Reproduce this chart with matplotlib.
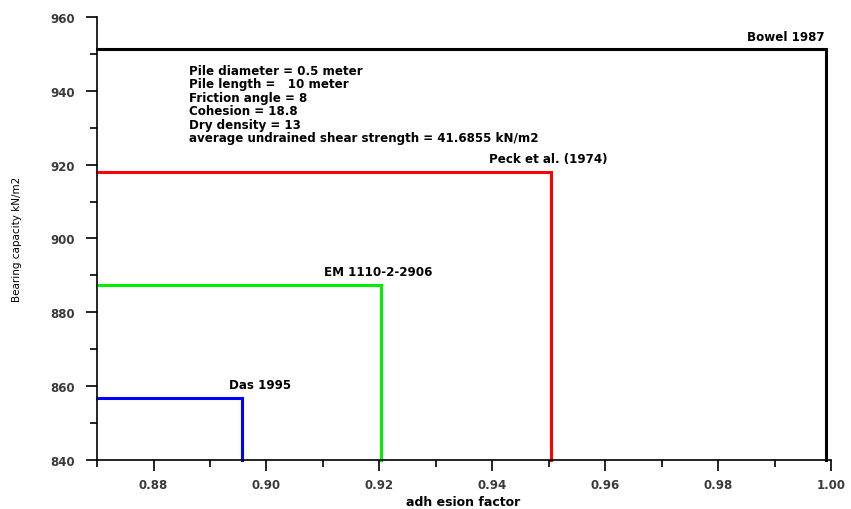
import matplotlib
matplotlib.use("Agg")
import matplotlib.pyplot as plt
from matplotlib.ticker import MultipleLocator

plt.rcParams['font.family'] = ['DejaVu Sans']

methods = ["Das 1995", "EM 1110-2-2906", "Peck et al. (1974)", "Bowel 1987"]
adhesion = [0.8957, 0.9203, 0.9503, 0.9990]
capacity = [856.8, 887.4, 918.0, 951.4]
colors = ["#0000ff", "#00ee00", "#ff0000", "#000000"]
x_min, y_min = 0.87, 840
x_ticks = [0.88, 0.90, 0.92, 0.94, 0.96, 0.98, 1.00]
y_ticks = [840, 860, 880, 900, 920, 940, 960]
info = ["Pile diameter = 0.5 meter",
        "Pile length =   10 meter",
        "Friction angle = 8",
        "Cohesion = 18.8",
        "Dry density = 13",
        "average undrained shear strength = 41.6855 kN/m2"]

fig = plt.figure(figsize=(8.51, 5.10), dpi=100)
ax = fig.add_axes([0.114, 0.096, 0.863, 0.869])

label_pos = {
    "Das 1995": (0.8988, 1.9, 'center'),
    "EM 1110-2-2906": (0.9197, 1.9, 'center'),
    "Peck et al. (1974)": (0.9498, 1.9, 'center'),
    "Bowel 1987": (0.9988, 1.5, 'right'),
}
for m, a, c, col in zip(methods, adhesion, capacity, colors):
    ax.plot([x_min, a, a], [c, c, y_min], color=col, lw=2.2, solid_joinstyle='miter', clip_on=False)
    lx, dy, ha = label_pos[m]
    ax.text(lx, c + dy, m, ha=ha, va='bottom', fontsize=8.6, fontweight='bold')

for i, line in enumerate(info):
    ax.annotate(line, xy=(0.8863, 945.5), xytext=(0, -i * 9.65), textcoords='offset points',
                ha='left', va='center', fontsize=8.6, fontweight='bold')

ax.set_xlim(x_min, 1.00)
ax.set_ylim(y_min, 960)
ax.set_xticks(x_ticks)
ax.set_yticks(y_ticks)
ax.set_xticklabels([f"{t:.2f}" for t in x_ticks])
ax.set_yticklabels([str(t) for t in y_ticks])
ax.xaxis.set_minor_locator(MultipleLocator(0.01))
ax.yaxis.set_minor_locator(MultipleLocator(10))
ax.tick_params(which='major', direction='out', length=8, width=1.2, labelsize=8.5,
               labelcolor='#3a3a3a')
ax.tick_params(axis='x', which='major', pad=5)
ax.tick_params(axis='y', which='major', pad=8)
ax.tick_params(which='minor', direction='out', length=5, width=1.2)
for lab in ax.get_xticklabels() + ax.get_yticklabels():
    lab.set_fontweight('bold')
for s in ['top', 'right']:
    ax.spines[s].set_visible(False)
for s in ['left', 'bottom']:
    ax.spines[s].set_linewidth(1.2)

fig.text(0.544, 0.002, "adh esion factor", ha='center', va='bottom', fontsize=9, fontweight='bold')
ax.set_ylabel("Bearing capacity kN/m2", fontsize=7.5, labelpad=20)

fig.savefig("out.png", dpi=100)
